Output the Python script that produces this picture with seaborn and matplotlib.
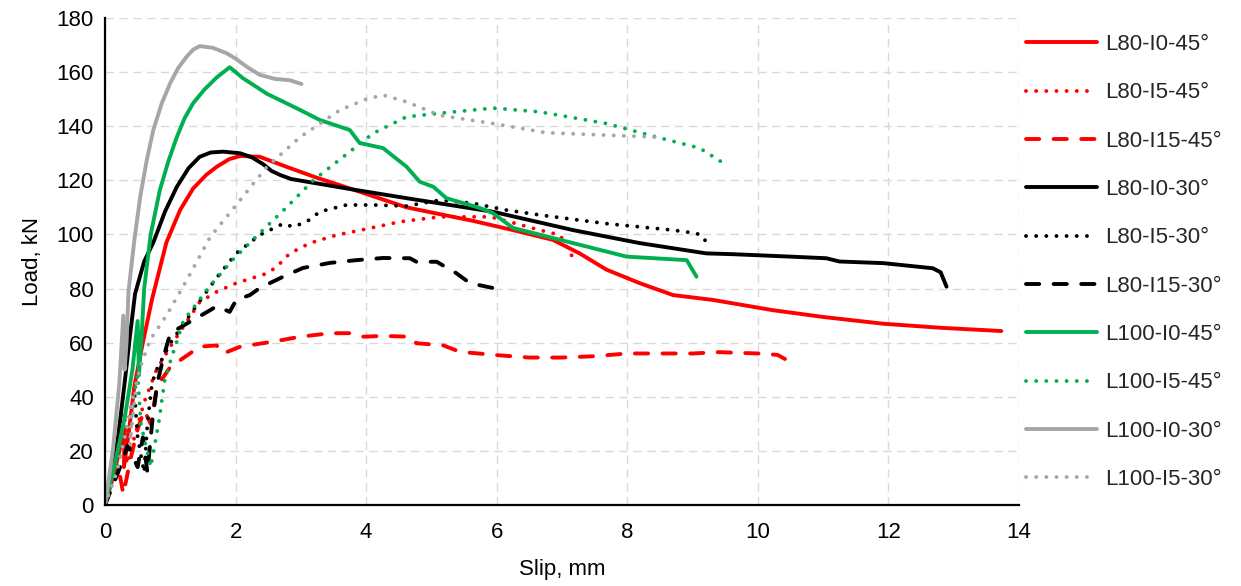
import matplotlib
matplotlib.use("Agg")
import matplotlib.pyplot as plt
import seaborn as sns
import pandas as pd

# Load–slip curves for the push-out specimens (slip in mm, load in kN)
l80_i0_45_slip = [0, 0.12, 0.22, 0.30, 0.29, 0.36, 0.45, 0.58, 0.72, 0.94, 1.15, 1.35, 1.55, 1.71, 1.90,
                  2.07, 2.37, 2.78, 3.24, 3.75, 4.62, 5.64, 6.25, 6.86, 7.27, 7.68, 8.19, 8.70, 9.31,
                  10.23, 11.0, 11.92, 12.8, 13.73]
l80_i0_45_load = [0, 10, 20, 28, 14, 26, 44, 60, 76, 97, 109, 117, 122, 125, 127.8,
                  129, 128.7, 125, 121, 117, 110, 105, 101.6, 98, 93, 87, 82, 77.6, 75.8,
                  72, 69.5, 67, 65.5, 64.3]

l80_i5_45_slip = [0, 0.15, 0.25, 0.30, 0.33, 0.45, 0.60, 0.79, 1.0, 1.45, 1.71, 2.01, 2.48, 2.63, 2.83,
                  3.14, 3.55, 4.0, 4.52, 5.13, 5.90, 6.30, 6.66, 6.97, 7.17]
l80_i5_45_load = [0, 12, 22, 34, 15, 25, 38, 50, 58.5, 75, 78.8, 82, 85.6, 88, 93,
                  96.8, 99.8, 102, 104.7, 106.5, 106.5, 104, 101.6, 99.8, 91.3]

l80_i15_45_slip = [0, 0.10, 0.20, 0.28, 0.40, 0.50, 0.60, 0.70, 0.80, 1.0, 1.45, 1.71, 1.81, 2.07, 2.58,
                   2.99, 3.45, 3.75, 3.96, 4.26, 4.67, 4.77, 5.18, 5.44, 6.0, 6.5, 7.0, 7.5, 8.0,
                   9.0, 9.4, 10.0, 10.3, 10.45]
l80_i15_45_load = [0, 8, 15, 4, 18, 28, 35, 30, 44, 51, 58.5, 59, 56, 58.5, 60.4,
                   62.2, 63.5, 63.5, 62.2, 62.5, 62.2, 59.8, 59, 56.6, 55.4, 54.5, 54.5, 55, 56,
                   56, 56.5, 56, 55.5, 53.5]

l80_i0_30_slip = [0, 0.10, 0.20, 0.30, 0.38, 0.46, 0.60, 0.74, 0.92, 1.10, 1.28, 1.45, 1.62, 1.81, 2.07,
                  2.25, 2.42, 2.55, 2.68, 2.85, 3.09, 3.75, 4.62, 5.94, 7.17, 8.19, 9.21, 9.62,
                  10.5, 11.05, 11.25, 11.92, 12.68, 12.8, 12.89]
l80_i0_30_load = [0, 12, 25, 45, 62, 78, 90, 97, 108.5, 117.6, 124.5, 128.7, 130.3, 130.6, 130,
                  128.5, 126, 123.5, 122, 120.5, 119.5, 116.8, 113.4, 108.4, 101.6, 96.8, 93, 92.7,
                  91.8, 91.2, 90, 89.4, 87.5, 86, 80.7]

l80_i5_30_slip = [0, 0.20, 0.35, 0.45, 0.50, 0.60, 0.65, 0.72, 0.79, 1.0, 1.35, 1.71, 2.01, 2.37, 2.73,
                  2.88, 3.09, 3.29, 3.70, 4.11, 4.62, 5.13, 5.64, 6.15, 6.66, 7.68, 8.70, 9.06,
                  9.16, 9.24]
l80_i5_30_load = [0, 15, 30, 42, 25, 12, 30, 45, 50, 59.8, 72, 84, 93, 99.8, 104,
                  102.8, 104.7, 108.4, 110.9, 110.9, 110.5, 112.7, 111.5, 109, 107.2, 104, 101.6, 100.4,
                  99.2, 95.7]

l80_i15_30_slip = [0, 0.20, 0.35, 0.50, 0.58, 0.65, 0.72, 0.80, 0.90, 1.0, 1.25, 1.61, 1.71, 1.91, 2.01,
                   2.22, 2.37, 2.73, 3.03, 3.45, 3.85, 4.26, 4.67, 4.77, 5.08, 5.38, 5.59, 5.94]
l80_i15_30_load = [0, 12, 22, 14, 25, 12, 30, 45, 55, 63.5, 67, 72, 73.5, 71.4, 75.8,
                   77.6, 80.2, 84.4, 87.6, 89.5, 90.5, 91.3, 91.2, 89.9, 89.9, 85.7, 82, 80.2]

l100_i0_45_slip = [0, 0.15, 0.30, 0.42, 0.50, 0.52, 0.56, 0.60, 0.70, 0.84, 0.97, 1.10, 1.22, 1.35, 1.52,
                   1.71, 1.91, 2.11, 2.48, 2.99, 3.29, 3.60, 3.75, 3.90, 4.26, 4.62, 4.82, 5.03,
                   5.23, 5.74, 5.94, 6.25, 7.17, 7.99, 8.91, 9.06]
l100_i0_45_load = [0, 15, 32, 50, 68, 48, 62, 80, 100, 116.4, 127, 136, 143, 148.5, 153.5,
                   158, 161.8, 157.8, 152, 146, 142.3, 139.8, 138.6, 133.8, 131.9, 125, 119.5, 117.6,
                   113.4, 109.8, 107.9, 102.4, 96.8, 91.8, 90.5, 84.4]

l100_i5_45_slip = [0, 0.20, 0.40, 0.50, 0.55, 0.70, 0.82, 0.92, 1.20, 1.61, 1.97, 2.37, 2.78, 3.19, 3.65,
                   4.11, 4.62, 5.13, 5.94, 6.66, 7.68, 8.45, 9.11, 9.47]
l100_i5_45_load = [0, 15, 35, 48, 30, 14, 30, 47, 68, 81, 91, 100.5, 110, 120, 128.7,
                   137.4, 143.5, 144.8, 146.7, 145.3, 141, 136, 131.9, 126.4]

l100_i0_30_slip = [0, 0.12, 0.22, 0.28, 0.30, 0.33, 0.36, 0.45, 0.54, 0.64, 0.74, 0.87, 1.0, 1.12, 1.25,
                   1.35, 1.45, 1.65, 1.86, 2.0, 2.17, 2.37, 2.60, 2.83, 3.01]
l100_i0_30_load = [0, 20, 45, 70, 50, 60, 79, 98, 114, 127.5, 138.6, 148.5, 156, 161.5, 165.7,
                   168.3, 169.6, 169, 167, 165, 162, 159, 157.5, 157, 155.6]

l100_i5_30_slip = [0, 0.18, 0.33, 0.43, 0.38, 0.48, 0.54, 0.69, 0.94, 1.25, 1.61, 2.07, 2.48, 2.99, 3.60,
                   4.0, 4.26, 4.62, 5.13, 5.94, 6.76, 7.68, 8.55]
l100_i5_30_load = [0, 12, 28, 40, 22, 45, 51, 61, 70, 83, 99, 112.7, 125, 136, 146,
                   150, 151.5, 149, 144, 141, 137.6, 136.7, 135.9]

x_ticks = [0, 2, 4, 6, 8, 10, 12, 14]
y_ticks = [0, 20, 40, 60, 80, 100, 120, 140, 160, 180]

RED, BLACK, GREEN, GREY = "#FF0000", "#000000", "#00B050", "#A6A6A6"
LW = 2.8
SOLID = "-"
DOTTED = (0, (0.01, 2.6))
DASHED = (0, (3.4, 3.7))

series = [
    ("L80-I0-45°", l80_i0_45_slip, l80_i0_45_load, RED, SOLID),
    ("L80-I5-45°", l80_i5_45_slip, l80_i5_45_load, RED, DOTTED),
    ("L80-I15-45°", l80_i15_45_slip, l80_i15_45_load, RED, DASHED),
    ("L80-I0-30°", l80_i0_30_slip, l80_i0_30_load, BLACK, SOLID),
    ("L80-I5-30°", l80_i5_30_slip, l80_i5_30_load, BLACK, DOTTED),
    ("L80-I15-30°", l80_i15_30_slip, l80_i15_30_load, BLACK, DASHED),
    ("L100-I0-45°", l100_i0_45_slip, l100_i0_45_load, GREEN, SOLID),
    ("L100-I5-45°", l100_i5_45_slip, l100_i5_45_load, GREEN, DOTTED),
    ("L100-I0-30°", l100_i0_30_slip, l100_i0_30_load, GREY, SOLID),
    ("L100-I5-30°", l100_i5_30_slip, l100_i5_30_load, GREY, DOTTED),
]

sns.set_theme(style="white")
plt.rcParams["font.family"] = ["Liberation Sans", "DejaVu Sans"]

fig = plt.figure(figsize=(12.41, 5.86), dpi=100)
ax = fig.add_axes([105 / 1241, 1 - 505 / 586, (1019 - 105) / 1241, (505 - 18) / 586])

for name, xs, ys, color, ls in series:
    df = pd.DataFrame({"slip": xs, "load": ys})
    sns.lineplot(data=df, x="slip", y="load", sort=False, estimator=None, ax=ax,
                 color=color, linestyle=ls, linewidth=LW, label=name,
                 dash_capstyle="round", solid_capstyle="round", solid_joinstyle="round")

ax.set_xlim(0, 14)
ax.set_ylim(0, 180)
ax.set_xticks(x_ticks)
ax.set_yticks(y_ticks)
ax.grid(True, color="#D9D9D9", linestyle=(0, (6, 4)), linewidth=1.0)
ax.set_axisbelow(True)
for side in ("top", "right"):
    ax.spines[side].set_visible(False)
for side in ("left", "bottom"):
    ax.spines[side].set_color("#000000")
    ax.spines[side].set_linewidth(1.6)
ax.tick_params(axis="x", length=0, labelsize=16, colors="#000000", pad=12)
ax.tick_params(axis="y", length=0, labelsize=16, colors="#000000", pad=8)
ax.set_xlabel("Slip, mm", fontsize=16, color="#000000", labelpad=12)
ax.set_ylabel("Load, kN", fontsize=16, color="#000000", labelpad=10)

handles, labels = ax.get_legend_handles_labels()
ax.legend(handles, labels, loc="upper left", bbox_to_anchor=(1026 / 1241, 1 - 34 / 586),
          bbox_transform=fig.transFigure, frameon=False, fontsize=16,
          handlelength=3.2, handletextpad=0.35, labelspacing=1.23,
          borderpad=0, borderaxespad=0)

fig.savefig("out.png", dpi=100)
